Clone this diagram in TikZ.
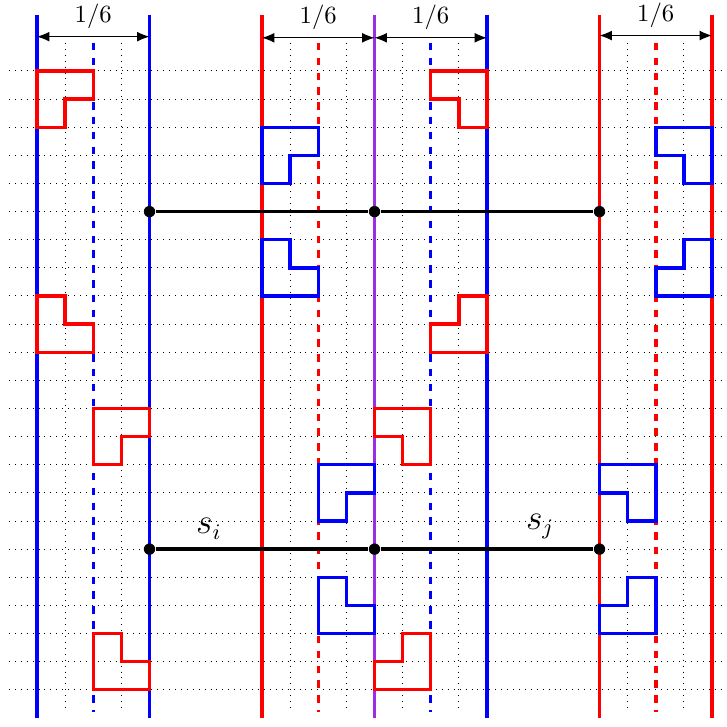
\documentclass[tikz,border=0pt]{standalone}
\usetikzlibrary{arrows.meta}
\definecolor{myviolet}{RGB}{155,45,230}
\begin{document}
\begin{tikzpicture}[x=0.4cm,y=0.4cm,
  gridline/.style={black, dotted, line width=0.4pt},
  solidline/.style={line width=1.4pt},
  dashline/.style={line width=1.4pt, dashed},
  lshape/.style={line width=1.4pt, line join=miter},
  conn/.style={black, line width=1.4pt},
  dot/.style={circle, fill=black, inner sep=0pt, minimum size=4.6pt},
  dim/.style={{Latex[length=5pt,width=4pt]}-{Latex[length=5pt,width=4pt]}, line width=0.45pt},
  dimlabel/.style={above, inner sep=3pt},
  slabel/.style={above, font=\fontsize{13.5}{16}\selectfont},
]
\useasboundingbox (-1.3156,-1.289) rectangle (24.533,24.524);
% horizontal grid
\foreach \r in {0,...,22} \draw[gridline] (-1,\r) -- (24.6,\r);
% dotted verticals
\foreach \c in {1,3,9,11,13,15,21,23} \draw[gridline] (\c,23) -- (\c,-0.8);
% dashed verticals
\draw[dashline, blue] (2,23) -- (2,-0.8);
\draw[dashline, red] (10,23) -- (10,-0.8);
\draw[dashline, blue] (14,23) -- (14,-0.8);
\draw[dashline, red] (22,23) -- (22,-0.8);
% solid verticals
\draw[solidline, blue] (0,24) -- (0,-1);
\draw[solidline, blue] (4,24) -- (4,-1);
\draw[solidline, red] (8,24) -- (8,-1);
\draw[solidline, myviolet] (12,24) -- (12,-1);
\draw[solidline, blue] (16,24) -- (16,-1);
\draw[solidline, red] (20,24) -- (20,-1);
\draw[solidline, red] (24,24) -- (24,-1);
% dimension arrows
\coordinate (d0) at (0,23.22);
\coordinate (d4) at (4,23.22);
\coordinate (d8) at (8,23.18);
\coordinate (d12) at (12,23.18);
\coordinate (d16) at (16,23.18);
\coordinate (d20) at (20,23.26);
\coordinate (d24) at (24,23.26);
\draw[dim] (d0) -- node[dimlabel] (w1) {$1/6$} (d4);
\draw[dim] (d8) -- node[dimlabel] (w2) {$1/6$} (d12);
\draw[dim] (d12) -- node[dimlabel] (w3) {$1/6$} (d16);
\draw[dim] (d20) -- node[dimlabel] (w4) {$1/6$} (d24);
% L shapes: group 1 (red)
\draw[lshape, red] (0,22) -- ++(2,0) -- ++(0,-1) -- ++(-1,0) -- ++(0,-1) -- ++(-1,0) -- cycle;
\draw[lshape, red] (0,14) -- ++(1,0) -- ++(0,-1) -- ++(1,0) -- ++(0,-1) -- ++(-2,0) -- cycle;
\draw[lshape, red] (2,10) -- ++(2,0) -- ++(0,-1) -- ++(-1,0) -- ++(0,-1) -- ++(-1,0) -- cycle;
\draw[lshape, red] (2,2) -- ++(1,0) -- ++(0,-1) -- ++(1,0) -- ++(0,-1) -- ++(-2,0) -- cycle;
% group 2 (blue)
\draw[lshape, blue] (8,20) -- ++(2,0) -- ++(0,-1) -- ++(-1,0) -- ++(0,-1) -- ++(-1,0) -- cycle;
\draw[lshape, blue] (8,16) -- ++(1,0) -- ++(0,-1) -- ++(1,0) -- ++(0,-1) -- ++(-2,0) -- cycle;
\draw[lshape, blue] (10,8) -- ++(2,0) -- ++(0,-1) -- ++(-1,0) -- ++(0,-1) -- ++(-1,0) -- cycle;
\draw[lshape, blue] (10,4) -- ++(1,0) -- ++(0,-1) -- ++(1,0) -- ++(0,-1) -- ++(-2,0) -- cycle;
% group 3 (red)
\draw[lshape, red] (14,22) -- ++(2,0) -- ++(0,-2) -- ++(-1,0) -- ++(0,1) -- ++(-1,0) -- cycle;
\draw[lshape, red] (15,14) -- ++(1,0) -- ++(0,-2) -- ++(-2,0) -- ++(0,1) -- ++(1,0) -- cycle;
\draw[lshape, red] (12,10) -- ++(2,0) -- ++(0,-2) -- ++(-1,0) -- ++(0,1) -- ++(-1,0) -- cycle;
\draw[lshape, red] (13,2) -- ++(1,0) -- ++(0,-2) -- ++(-2,0) -- ++(0,1) -- ++(1,0) -- cycle;
% group 4 (blue)
\draw[lshape, blue] (22,20) -- ++(2,0) -- ++(0,-2) -- ++(-1,0) -- ++(0,1) -- ++(-1,0) -- cycle;
\draw[lshape, blue] (23,16) -- ++(1,0) -- ++(0,-2) -- ++(-2,0) -- ++(0,1) -- ++(1,0) -- cycle;
\draw[lshape, blue] (20,8) -- ++(2,0) -- ++(0,-2) -- ++(-1,0) -- ++(0,1) -- ++(-1,0) -- cycle;
\draw[lshape, blue] (21,4) -- ++(1,0) -- ++(0,-2) -- ++(-2,0) -- ++(0,1) -- ++(1,0) -- cycle;
% black connectors and dots
\node[dot] (a1) at (4,17) {};
\node[dot] (a2) at (12,17) {};
\node[dot] (a3) at (20,17) {};
\node[dot] (b1) at (4,5) {};
\node[dot] (b2) at (12,5) {};
\node[dot] (b3) at (20,5) {};
\draw[conn] (a1) -- (a2);
\draw[conn] (a2) -- (a3);
\draw[conn] (b1) -- node[slabel, pos=0.25] (si) {$s_i$} (b2);
\draw[conn] (b2) -- node[slabel, pos=0.75] (sj) {$s_j$} (b3);
\end{tikzpicture}
\end{document}
